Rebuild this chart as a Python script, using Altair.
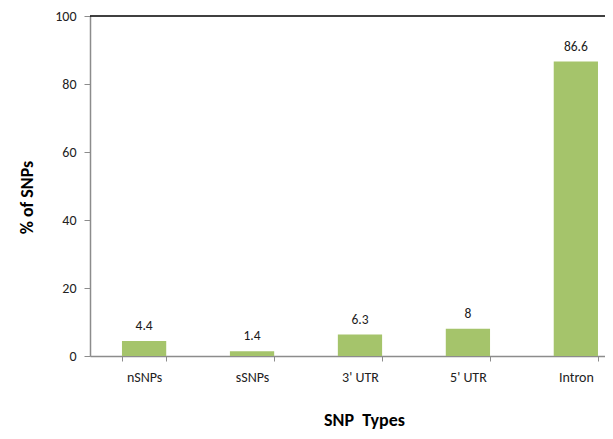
import altair as alt
import pandas as pd

categories = ["nSNPs", "sSNPs", "3' UTR", "5' UTR", "Intron"]
values = [4.4, 1.4, 6.3, 8, 86.6]
labels = ["4.4", "1.4", "6.3", "8", "86.6"]

df = pd.DataFrame({"type": categories, "pct": values, "label": labels})

FONT = "Carlito, Lato, Open Sans, sans-serif"

x = alt.X("type:N", sort=categories, title="SNP\u00a0\u00a0Types",
          scale=alt.Scale(paddingInner=0.59, paddingOuter=0.1806, align=0.82),
          axis=alt.Axis(labelAngle=0, tickBand="extent", domainColor="#8c8c8c",
                        domainWidth=1.5, tickColor="#8c8c8c", tickSize=5,
                        labelPadding=9, labelFontSize=14, labelColor="#222222",
                        titleFontSize=18, titleFontWeight="bold",
                        titleX=274, titleY=69, titleBaseline="alphabetic",
                        titleColor="#000000", labelFont=FONT, titleFont=FONT))
y = alt.Y("pct:Q", title="% of SNPs",
          scale=alt.Scale(domain=[0, 100], nice=False),
          axis=alt.Axis(values=[0, 20, 40, 60, 80, 100], grid=False,
                        domainColor="#8c8c8c", domainWidth=1.5,
                        tickColor="#8c8c8c", tickSize=6, labelPadding=8,
                        labelFontSize=14, labelColor="#222222",
                        titleFontSize=18, titleFontWeight="bold",
                        titleX=-63, titleY=181, titleBaseline="middle",
                        titleColor="#000000", labelFont=FONT, titleFont=FONT))

base = alt.Chart(df)
bars = base.mark_bar(color="#A5C46B").encode(x=x, y=y)
text = base.mark_text(dy=-11, baseline="alphabetic", fontSize=13.5, font=FONT,
                      color="#1a1a1a").encode(
    x=alt.X("type:N", sort=categories), y="pct:Q", text="label:N")
top = alt.Chart(pd.DataFrame({"v": [100]})).mark_rule(color="#000000", strokeWidth=1.5).encode(
    y=alt.Y("v:Q"))

chart = alt.layer(bars, text, top).properties(
    width=515, height=340,
    autosize=alt.AutoSizeParams(type="none"),
    padding={"left": 82, "top": 8, "right": 0, "bottom": 75},
).configure_view(stroke=None)

chart.save("out.html", embed_options={"renderer": "svg", "actions": False})
